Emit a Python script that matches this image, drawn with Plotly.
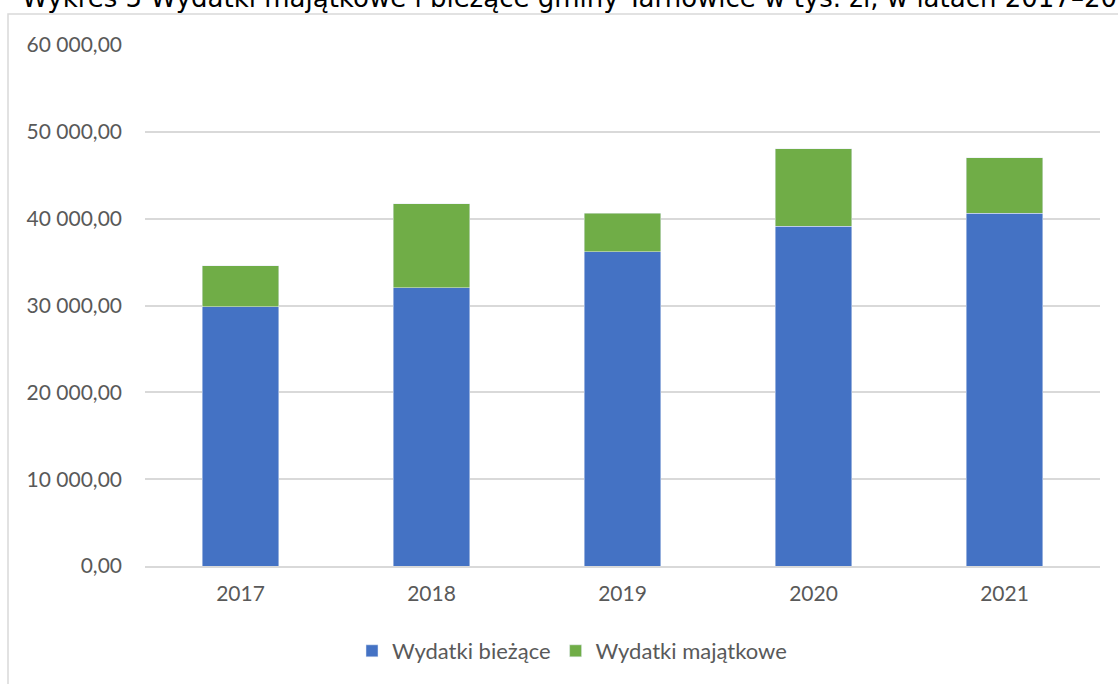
import plotly.graph_objects as go

years = ["2017", "2018", "2019", "2020", "2021"]
biezace = [29850, 32020, 36200, 39120, 40610]
totals = [34550, 41720, 40600, 48050, 47010]
majatkowe = [t - b for t, b in zip(totals, biezace)]
series_names = ["Wydatki bieżące", "Wydatki majątkowe"]
tick_vals = [0, 10000, 20000, 30000, 40000, 50000, 60000]
title_text = "Wykres 5 Wydatki majątkowe i bieżące gminy Tarnowice w tys. zł, w latach 2017–2021"

W, H = 1118, 684
ml, mr, mt, mb = 145, 18, 45, 118
pw, ph = W - ml - mr, H - mt - mb

def px_x(p):
    return (p - ml) / pw

def px_y(p):
    return (H - mb - p) / ph

fig = go.Figure()
fig.add_trace(go.Bar(x=years, y=biezace, name=series_names[0], marker_color="#4472C4"))
fig.add_trace(go.Bar(x=years, y=majatkowe, name=series_names[1], marker_color="#70AD47"))

fig.update_layout(
    width=W, height=H,
    margin=dict(l=ml, r=mr, t=mt, b=mb),
    barmode="stack", bargap=0.6,
    separators=", ",
    plot_bgcolor="white", paper_bgcolor="white",
    font=dict(family="Lato, Open Sans, sans-serif", size=21, color="#595959"),
    showlegend=True,
    legend=dict(orientation="h", x=px_x(572), xanchor="center", y=px_y(651), yanchor="middle",
                font=dict(size=22, color="#595959"), traceorder="normal"),
    xaxis=dict(showgrid=False, showline=True, linecolor="#d9d9d9", linewidth=1.5,
               ticks="", tickfont=dict(size=21, color="#595959"), ticklabelstandoff=8),
    yaxis=dict(range=[0, 60000], tickvals=tick_vals, tickformat=",.2f",
               showgrid=True, gridcolor="#d9d9d9", gridwidth=1.5, zeroline=False,
               showline=False, ticks="", tickfont=dict(size=21, color="#595959"),
               ticklabelstandoff=22),
)

fig.add_annotation(text=title_text, xref="paper", yref="paper",
                   x=px_x(20), xanchor="left", y=px_y(15), yanchor="bottom",
                   showarrow=False, font=dict(family="DejaVu Sans", size=26, color="#000000"))

fig.add_shape(type="rect", xref="paper", yref="paper",
              x0=px_x(8), x1=px_x(1200), y0=px_y(800), y1=px_y(14),
              line=dict(color="#d9d9d9", width=1.5), fillcolor="rgba(0,0,0,0)", layer="below")

fig.write_html("out.html", config={"displayModeBar": False},
               post_script="document.body.style.margin='0';")
